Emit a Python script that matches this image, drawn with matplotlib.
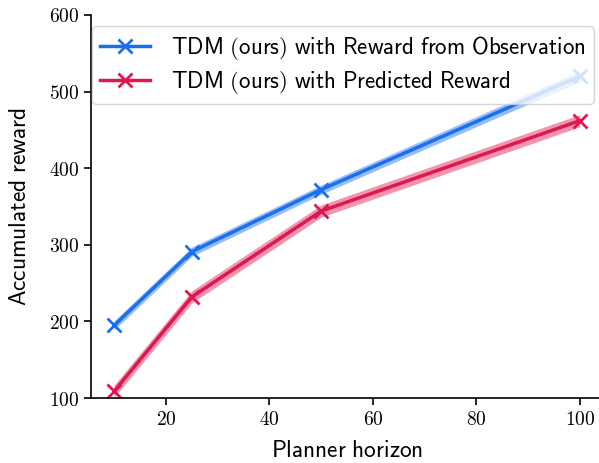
import matplotlib
matplotlib.use('Agg')
import matplotlib.pyplot as plt
import numpy as np

plt.rcParams['mathtext.fontset'] = 'cm'

# --- data ---
horizon = [10, 25, 50, 100]
reward_obs = [195, 291, 372, 520]
reward_obs_std = [6, 6, 6, 7]
reward_pred = [109, 232, 344, 462]
reward_pred_std = [8, 8, 8, 8]

labels = [r'$\mathsf{TDM\ (ours)\ with\ Reward\ from\ Observation}$',
          r'$\mathsf{TDM\ (ours)\ with\ Predicted\ Reward}$']
blue = '#1a6ff0'
red = '#e0174f'

fig = plt.figure(figsize=(5.99, 4.63), dpi=100)
ax = fig.add_axes([91/599, 65/463, (603-91)/599, (398-15)/463])

x = np.array(horizon)
for y, s, c, lab in [(reward_obs, reward_obs_std, blue, labels[0]),
                     (reward_pred, reward_pred_std, red, labels[1])]:
    y = np.array(y); s = np.array(s)
    ax.fill_between(x, y - s, y + s, color=c, alpha=0.45, lw=0)
    ax.plot(x, y, color=c, lw=2.5, marker='x', ms=10, mew=2, label=lab)

ax.set_xlim(5.5, 104.5)
ax.set_ylim(100, 600)
ax.set_xticks([20, 40, 60, 80, 100])
ax.set_xticklabels([f'${v}$' for v in [20, 40, 60, 80, 100]])
ax.set_yticks([100, 200, 300, 400, 500, 600])
ax.set_yticklabels([f'${v}$' for v in [100, 200, 300, 400, 500, 600]])
ax.tick_params(labelsize=14, width=1.2, length=5)
for sp in ['top', 'right']:
    ax.spines[sp].set_visible(False)
for sp in ['left', 'bottom']:
    ax.spines[sp].set_linewidth(1.2)

ax.set_xlabel(r'$\mathsf{Planner\ horizon}$', fontsize=16.8, labelpad=7.5)
ax.set_ylabel(r'$\mathsf{Accumulated\ reward}$', fontsize=16.8, labelpad=13)
ax.legend(loc='upper left', fontsize=16.5, framealpha=0.8, handlelength=2.2,
          borderpad=0.35, labelspacing=0.32, handletextpad=0.9,
          bbox_to_anchor=(1/512, 1 - 11/383), borderaxespad=0)

fig.savefig('out.png', dpi=100)
